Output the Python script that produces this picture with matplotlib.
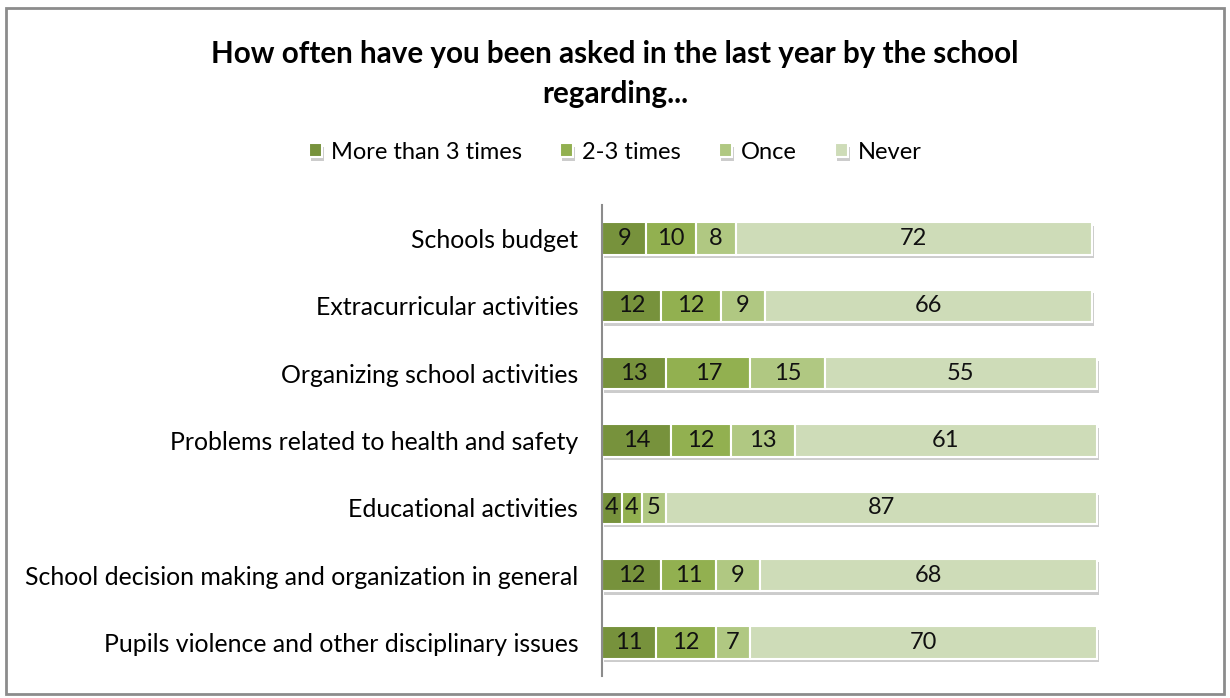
import matplotlib
matplotlib.use("Agg")
import matplotlib.pyplot as plt
import matplotlib.patheffects as pe
from matplotlib.patches import Rectangle
import numpy as np

plt.rcParams['font.family'] = ['Lato', 'DejaVu Sans']

categories = [
    "Schools budget",
    "Extracurricular activities",
    "Organizing school activities",
    "Problems related to health and safety",
    "Educational activities",
    "School decision making and organization in general",
    "Pupils violence and other disciplinary issues",
]
series_names = ["More than 3 times", "2-3 times", "Once", "Never"]
more_than_3 = [9, 12, 13, 14, 4, 12, 11]
two_three = [10, 12, 17, 12, 4, 11, 12]
once = [8, 9, 15, 13, 5, 9, 7]
never = [72, 66, 55, 61, 87, 68, 70]
colors = ["#77923c", "#92b050", "#b0c882", "#cedcb8"]

title = "How often have you been asked in the last year by the school\nregarding..."

fig = plt.figure(figsize=(12.3, 6.98), dpi=100)
fig.patches.append(Rectangle((0.005, 0.006), 0.99, 0.982, transform=fig.transFigure,
                             fill=False, edgecolor="#8c8c8c", linewidth=2))

ax = fig.add_axes([0.4894, 0.0315, 0.4022, 0.6748])
y = np.arange(len(categories))
left = np.zeros(len(categories))
shadow = [pe.SimplePatchShadow(offset=(1.5, -2.5), shadow_rgbFace="#9a9a9a", alpha=0.5), pe.Normal()]
for vals, name, c in zip([more_than_3, two_three, once, never], series_names, colors):
    vals = np.array(vals, dtype=float)
    bars = ax.barh(y, vals, left=left, height=0.48, color=c, edgecolor="white",
                   linewidth=1.5, label=name)
    for b in bars:
        b.set_path_effects(shadow)
        b.set_clip_on(False)
    for yi, l, v in zip(y, left, vals):
        ax.text(l + v / 2, yi, f"{int(v)}", ha="center", va="center", fontsize=17, color="#111111")
    left += vals

ax.set_xlim(0, 100)
ax.set_ylim(len(categories) - 0.5, -0.5)
ax.set_yticks(y)
ax.set_yticklabels(categories, fontsize=17.9)
ax.tick_params(axis="y", length=0, pad=17)
ax.set_xticks([])
for s in ["top", "right", "bottom"]:
    ax.spines[s].set_visible(False)
ax.spines["left"].set_color("#8c8c8c")
ax.spines["left"].set_linewidth(1.5)

fig.text(0.5, 0.894, title, ha="center", va="center", fontsize=21.3, fontweight="bold",
         linespacing=1.55)
fig.legend(loc="center", bbox_to_anchor=(0.5, 0.782), ncol=4, frameon=False, fontsize=17,
           handlelength=0.55, handleheight=0.55, handletextpad=0.4, columnspacing=1.6)

fig.savefig("out.png", dpi=100)
